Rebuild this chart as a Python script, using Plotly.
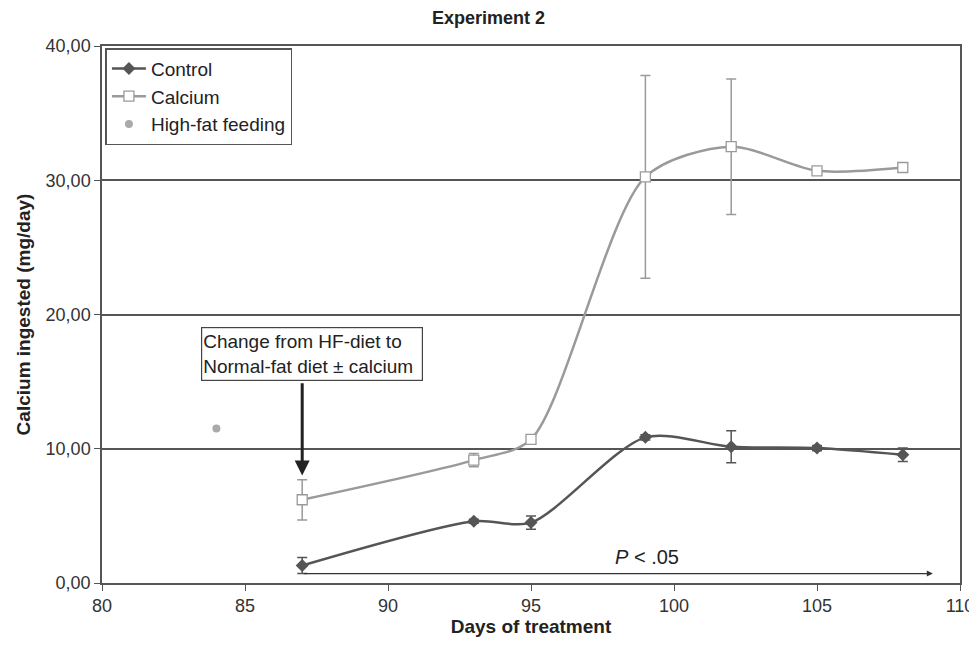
import plotly.graph_objects as go

days = [87, 93, 95, 99, 102, 105, 108]
control = [1.3, 4.6, 4.5, 10.85, 10.15, 10.05, 9.55]
control_err = [0.6, 0.15, 0.5, 0.2, 1.2, 0.2, 0.5]
calcium = [6.2, 9.15, 10.7, 30.25, 32.5, 30.7, 30.95]
calcium_err = [1.5, 0.5, 0.2, 7.55, 5.05, 0.2, 0.2]
hf_day = [84]
hf_value = [11.5]

dark = "#555555"
light = "#9a9a9a"
font_family = "Liberation Sans, Arial, sans-serif"

fig = go.Figure()
fig.add_trace(go.Scatter(
    x=days, y=control, name="Control", mode="lines+markers",
    line=dict(color=dark, width=2.5, shape="spline", smoothing=0.8),
    marker=dict(symbol="diamond", size=10, color=dark),
    error_y=dict(type="data", array=control_err, color=dark, thickness=1.5, width=5),
))
fig.add_trace(go.Scatter(
    x=days, y=calcium, name="Calcium", mode="lines+markers",
    line=dict(color=light, width=2.5, shape="spline", smoothing=0.8),
    marker=dict(symbol="square", size=10, color="white", line=dict(color=light, width=1.3)),
    error_y=dict(type="data", array=calcium_err, color=light, thickness=1.5, width=5),
))
fig.add_trace(go.Scatter(
    x=hf_day, y=hf_value, name="High-fat feeding", mode="markers",
    marker=dict(symbol="circle", size=8, color="#aaaaaa"),
))

# change-of-diet annotation with arrow
fig.add_annotation(
    x=87, y=8.0, ax=87, ay=15.0, xref="x", yref="y", axref="x", ayref="y",
    showarrow=True, arrowhead=2, arrowsize=1, arrowwidth=3, arrowcolor="#222222",
    text="",
)
fig.add_annotation(
    x=83.45, y=19.06, xref="x", yref="y", xanchor="left", yanchor="top",
    text="Change from HF-diet to<br>Normal-fat diet ± calcium", showarrow=False,
    align="left", width=218, height=50,
    font=dict(size=19, color="#222222", family=font_family),
    bordercolor="#444444", borderwidth=1.2, borderpad=1, bgcolor="white",
)
# significance arrow
fig.add_annotation(
    x=109.05, y=0.7, ax=87, ay=0.7, xref="x", yref="y", axref="x", ayref="y",
    showarrow=True, arrowhead=2, arrowsize=1, arrowwidth=1.2, arrowcolor="#333333",
    text="",
)
fig.add_annotation(
    x=99.06, y=1.94, xref="x", yref="y", showarrow=False,
    text="<i>P</i> < .05", font=dict(size=20, color="#222222", family=font_family),
)

fig.update_layout(
    width=961, height=639,
    margin=dict(l=94, r=9, t=38, b=64, autoexpand=False),
    paper_bgcolor="white", plot_bgcolor="white",
    separators=",.",
    font=dict(family=font_family, size=18, color="#333333"),
    title=dict(text="<b>Experiment 2</b>", x=0.5, xanchor="center", y=0.985, yanchor="middle",
               font=dict(size=18, color="#222222")),
    legend=dict(x=0.004, y=0.996, xanchor="left", yanchor="top",
                bgcolor="white", bordercolor="#555555", borderwidth=1.5,
                font=dict(size=19, color="#222222"), tracegroupgap=0, itemwidth=34),
    showlegend=True,
)
fig.update_xaxes(
    range=[80, 110], dtick=5, tickformat="d",
    showline=True, linecolor="#555555", linewidth=1.5, mirror=True,
    ticks="outside", ticklen=6, tickcolor="#555555",
    showgrid=False, zeroline=False, ticklabeloverflow="allow", automargin=False,
    tickfont=dict(size=18, color="#333333"),
    title=dict(text="<b>Days of treatment</b>", font=dict(size=19, color="#222222"), standoff=4),
)
fig.update_yaxes(
    range=[0, 40], dtick=10, tickformat=".2f",
    showline=True, linecolor="#555555", linewidth=1.5, mirror=True,
    ticks="outside", ticklen=6, tickcolor="#555555",
    showgrid=True, gridcolor="#555555", gridwidth=1.5, zeroline=False,
    tickfont=dict(size=18, color="#333333"),
    title=dict(text="<b>Calcium ingested (mg/day)</b>", font=dict(size=19, color="#222222"), standoff=10),
)

fig.write_html("out.html")
